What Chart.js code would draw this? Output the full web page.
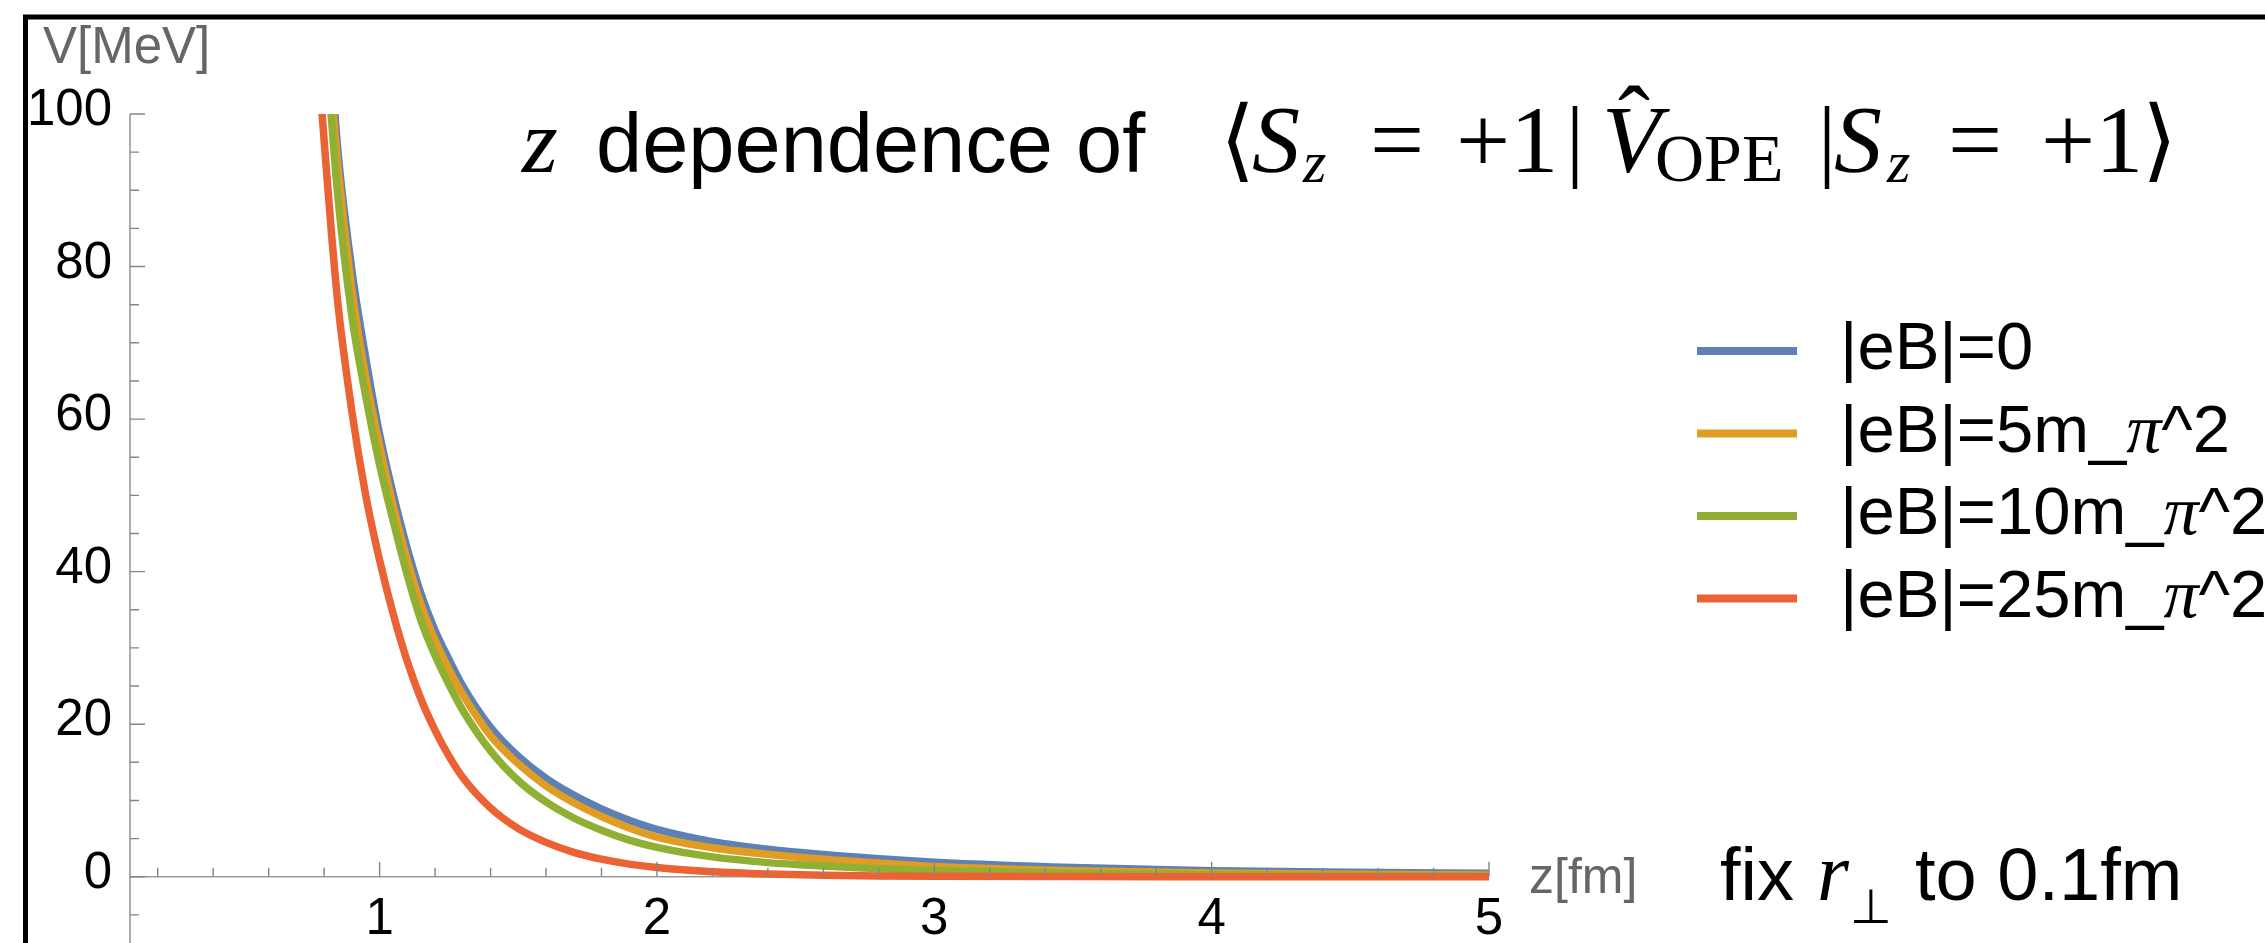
<!DOCTYPE html>
<html>
<head>
<meta charset="utf-8">
<script src="https://cdn.jsdelivr.net/npm/chart.js@4.4.0/dist/chart.umd.min.js"></script>
<style>
  html, body { margin: 0; padding: 0; background: #fff; overflow: hidden; }
  #wrap { width: 2265px; height: 943px; overflow: hidden; }
  canvas { display: block; }
</style>
</head>
<body>
<div id="wrap"><canvas id="chart" width="2265" height="953"></canvas></div>
<script>
// z in fm, V in MeV
const zValues = [0.78, 0.80, 0.825, 0.85, 0.9, 0.95, 1.0, 1.05, 1.1, 1.15, 1.2, 1.25, 1.3, 1.4, 1.5,
  1.6, 1.7, 1.8, 1.9, 2.0, 2.2, 2.4, 2.6, 2.8, 3.0, 3.5, 4.0, 4.5, 5.0];

const vEB0 = [132, 120, 107, 95, 79.5, 68, 58, 50, 43, 37, 32.3, 28.5, 25, 19.6, 15.8,
  12.9, 10.7, 8.9, 7.4, 6.2, 4.6, 3.6, 2.9, 2.35, 1.9, 1.2, 0.8, 0.58, 0.45];
const vEB5 = [130, 118, 104, 93, 77, 65.5, 56.5, 48.5, 41.5, 35.6, 31.0, 27.2, 23.9, 18.5, 14.8,
  11.9, 9.7, 7.9, 6.4, 5.2, 3.8, 2.95, 2.3, 1.8, 1.35, 0.8, 0.5, 0.33, 0.22];
const vEB10 = [125, 112, 100, 89, 73.5, 63, 54, 46.5, 39.5, 33.5, 29, 25.2, 21.8, 16.5, 12.6,
  9.8, 7.7, 6.1, 4.8, 3.85, 2.6, 1.85, 1.4, 1.05, 0.8, 0.45, 0.27, 0.17, 0.11];
const vEB25 = [106, 96.5, 85, 75, 61, 50, 41.5, 34.3, 28.2, 23.2, 19.2, 15.8, 13.0, 9.0, 6.3,
  4.5, 3.2, 2.3, 1.65, 1.2, 0.65, 0.36, 0.2, 0.11, 0.06, 0.02, 0.01, 0, 0];

const seriesLabels = ['|eB|=0', '|eB|=5m_π^2', '|eB|=10m_π^2', '|eB|=25m_π^2'];
const seriesValues = [vEB0, vEB5, vEB10, vEB25];
const seriesColors = ['#5E81B5', '#E19C24', '#8FB032', '#EB6235'];

const xMajorTicks = [1, 2, 3, 4, 5];
const xMinorTicks = [0.2, 0.4, 0.6, 0.8, 1.2, 1.4, 1.6, 1.8, 2.2, 2.4, 2.6, 2.8,
  3.2, 3.4, 3.6, 3.8, 4.2, 4.4, 4.6, 4.8];
const yMajorTicks = [0, 20, 40, 60, 80, 100];
const yMinorTicks = [-5, 5, 10, 15, 25, 30, 35, 45, 50, 55, 65, 70, 75, 85, 90, 95];

const SANS = '"Liberation Sans", Arial, Helvetica, sans-serif';
const SERIF = '"Liberation Serif", "DejaVu Serif", serif';
const GREY = '#666666';

// pieces of the mixed text / math heading
const titlePieces = [
  { t: 'z', f: 'italic 92px ' + SERIF, x: 522, y: 172 },
  { t: 'dependence of', f: '83px ' + SANS, x: 596, y: 172 },
  { t: '⟨', f: '90px "DejaVu Sans"', x: 1220, y: 170 },
  { t: 'S', f: 'italic 96px ' + SERIF, x: 1252, y: 172 },
  { t: 'z', f: 'italic 60px ' + SERIF, x: 1303, y: 182 },
  { t: '=', f: '96px ' + SERIF, x: 1370, y: 172 },
  { t: '+1', f: '96px ' + SERIF, x: 1456, y: 172 },
  { t: '|', f: '90px ' + SERIF, x: 1566, y: 170 },
  { t: 'V', f: 'italic 96px ' + SERIF, x: 1602, y: 172 },
  { t: 'ˆ', f: '96px ' + SERIF, x: 1618, y: 152 },
  { t: 'OPE', f: '68px ' + SERIF, x: 1655, y: 181 },
  { t: '|', f: '90px ' + SERIF, x: 1818, y: 170 },
  { t: 'S', f: 'italic 96px ' + SERIF, x: 1834, y: 172 },
  { t: 'z', f: 'italic 60px ' + SERIF, x: 1887, y: 182 },
  { t: '=', f: '96px ' + SERIF, x: 1948, y: 172 },
  { t: '+1', f: '96px ' + SERIF, x: 2041, y: 172 },
  { t: '⟩', f: '90px "DejaVu Sans"', x: 2142, y: 170 },
];

const notePieces = [
  { t: 'fix', f: '74px ' + SANS, x: 1720, y: 900 },
  { t: 'r', f: 'italic 82px ' + SERIF, x: 1817, y: 900 },
  { t: '⊥', f: '48px "DejaVu Sans"', x: 1850, y: 923 },
  { t: 'to 0.1fm', f: '74px ' + SANS, x: 1915, y: 900 },
];

function drawPieces(ctx, pieces, color) {
  ctx.fillStyle = color;
  ctx.textBaseline = 'alphabetic';
  ctx.textAlign = 'left';
  pieces.forEach((p) => {
    ctx.font = p.f;
    ctx.fillText(p.t, p.x, p.y);
  });
}

const decor = {
  id: 'decor',
  beforeDatasetsDraw(chart) {
    const { ctx, scales, chartArea } = chart;
    const y0 = scales.y.getPixelForValue(0);
    ctx.save();
    ctx.strokeStyle = '#9a9a9a';
    ctx.lineWidth = 1.6;
    ctx.beginPath();
    ctx.moveTo(chartArea.left, y0);
    ctx.lineTo(chartArea.right, y0);
    ctx.moveTo(chartArea.left, chartArea.top);
    ctx.lineTo(chartArea.left, chartArea.bottom);
    ctx.stroke();
    ctx.restore();
  },
  afterDatasetsDraw(chart) {
    const { ctx, scales, chartArea } = chart;
    const y0 = scales.y.getPixelForValue(0);
    const left = chartArea.left;
    ctx.save();
    ctx.strokeStyle = '#858585';
    ctx.lineWidth = 1.4;
    ctx.beginPath();
    xMajorTicks.forEach((v) => {
      const px = scales.x.getPixelForValue(v);
      ctx.moveTo(px, y0);
      ctx.lineTo(px, y0 - 15);
    });
    xMinorTicks.forEach((v) => {
      const px = scales.x.getPixelForValue(v);
      ctx.moveTo(px, y0);
      ctx.lineTo(px, y0 - 9);
    });
    yMajorTicks.forEach((v) => {
      const py = scales.y.getPixelForValue(v);
      ctx.moveTo(left, py);
      ctx.lineTo(left + 15, py);
    });
    yMinorTicks.forEach((v) => {
      const py = scales.y.getPixelForValue(v);
      ctx.moveTo(left, py);
      ctx.lineTo(left + 9, py);
    });
    ctx.stroke();
    ctx.restore();
  },
  afterDraw(chart) {
    const { ctx } = chart;
    ctx.save();

    // outer frame
    ctx.strokeStyle = '#000';
    ctx.lineWidth = 5;
    ctx.strokeRect(25.5, 17, 2400, 1100);

    // axis names
    ctx.fillStyle = GREY;
    ctx.textBaseline = 'alphabetic';
    ctx.textAlign = 'left';
    ctx.font = '51px ' + SANS;
    ctx.fillText('V[MeV]', 43, 63);
    ctx.font = '50px ' + SANS;
    ctx.fillText('z[fm]', 1529, 893);

    drawPieces(ctx, titlePieces, '#000');
    drawPieces(ctx, notePieces, '#000');

    // legend
    const legendTop = 351;
    const legendGap = 82.5;
    chart.data.datasets.forEach((ds, i) => {
      const yc = legendTop + i * legendGap;
      ctx.strokeStyle = ds.borderColor;
      ctx.lineWidth = 8;
      ctx.lineCap = 'butt';
      ctx.beginPath();
      ctx.moveTo(1697, yc);
      ctx.lineTo(1797, yc);
      ctx.stroke();

      ctx.fillStyle = '#000';
      ctx.textBaseline = 'middle';
      const parts = ds.label.split('π');
      let x = 1840;
      ctx.font = '67px ' + SANS;
      ctx.fillText(parts[0], x, yc);
      x += ctx.measureText(parts[0]).width;
      if (parts.length > 1) {
        ctx.font = 'italic 70px ' + SERIF;
        ctx.fillText('π', x, yc);
        x += ctx.measureText('π').width;
        ctx.font = '67px ' + SANS;
        ctx.fillText(parts[1], x, yc);
      }
    });

    ctx.restore();
  },
};

const chart = new Chart(document.getElementById('chart').getContext('2d'), {
  type: 'line',
  data: {
    datasets: seriesLabels.map((label, i) => ({
      label: label,
      data: zValues.map((z, j) => ({ x: z, y: seriesValues[i][j] })),
      borderColor: seriesColors[i],
      backgroundColor: seriesColors[i],
      borderWidth: 7.5,
      pointRadius: 0,
      fill: false,
      cubicInterpolationMode: 'monotone',
      clip: 0,
      order: seriesLabels.length - i,
    })),
  },
  options: {
    responsive: false,
    animation: false,
    devicePixelRatio: 1,
    layout: { padding: { left: 0, top: 114, right: 776, bottom: 0 } },
    plugins: {
      legend: { display: false },
      title: { display: false },
      tooltip: { enabled: false },
    },
    scales: {
      x: {
        type: 'linear',
        min: 0.1,
        max: 5,
        position: { y: 0 },
        grid: { display: false, drawTicks: false },
        border: { display: false },
        afterBuildTicks: (s) => { s.ticks = xMajorTicks.map((v) => ({ value: v })); },
        afterFit: (s) => { s.height = 0; s.paddingLeft = 0; s.paddingRight = 0; },
        ticks: {
          font: { family: SANS, size: 51 },
          color: '#000',
          padding: 13,
          maxRotation: 0,
          autoSkip: false,
        },
      },
      y: {
        type: 'linear',
        min: -10,
        max: 100,
        grid: { display: false, drawTicks: false },
        border: { display: false },
        afterBuildTicks: (s) => { s.ticks = yMajorTicks.map((v) => ({ value: v })); },
        afterFit: (s) => { s.width = 130; s.paddingTop = 0; s.paddingBottom = 0; },
        ticks: {
          font: { family: SANS, size: 51 },
          color: '#000',
          padding: 18,
          labelOffset: -3,
          autoSkip: false,
        },
      },
    },
  },
  plugins: [decor],
});
</script>
</body>
</html>
